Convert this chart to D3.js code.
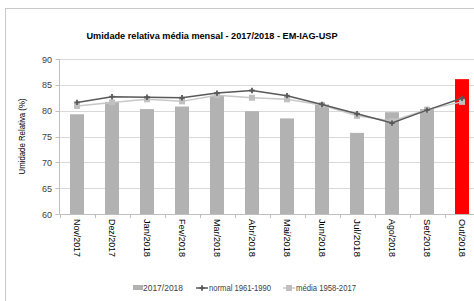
<!DOCTYPE html>
<html><head><meta charset="utf-8">
<script src="https://cdn.jsdelivr.net/npm/d3@7"></script>
<style>body{margin:0;background:#fff;}svg{display:block;font-family:"Liberation Sans",Arial,sans-serif;}</style>
</head><body>
<svg id="c" width="474" height="301"></svg>
<script>
const months = ["Nov/2017","Dez/2017","Jan/2018","Fev/2018","Mar/2018","Abr/2018","Mai/2018","Jun/2018","Jul/2018","Ago/2018","Set/2018","Out/2018"];
const obs = [79.3,81.7,80.3,80.8,82.9,79.9,78.5,81.2,75.7,79.7,80.3,86.1];
const normal = [81.6,82.7,82.6,82.5,83.4,83.9,82.9,81.2,79.4,77.6,80.1,82.4];
const media = [80.9,81.6,82.2,81.8,83.0,82.5,82.2,81.1,79.0,78.0,80.2,81.7];
const yTicks = [60,65,70,75,80,85,90];

const svg = d3.select("#c");
const L = 59.5, R = 479.5, T = 59, B = 214;
const x = d3.scaleBand().domain(months).range([L,R]).paddingInner(0.6).paddingOuter(0.3);
const xc = d => x(d) + x.bandwidth()/2;
const y = d3.scaleLinear().domain([60,90]).range([B,T]);

svg.append("rect").attr("x",5.5).attr("y",8.5).attr("width",520).attr("height",320)
  .attr("fill","none").attr("stroke","#c8c8c8");

svg.append("text").attr("x",212).attr("y",39).attr("text-anchor","middle")
  .attr("font-size",9).attr("font-weight","bold").attr("fill","#000")
  .attr("textLength",251).attr("lengthAdjust","spacingAndGlyphs")
  .text("Umidade relativa  média mensal - 2017/2018 - EM-IAG-USP");

// gridlines
svg.append("g").selectAll("line").data(yTicks.filter(t=>t>60)).join("line")
  .attr("x1",L).attr("x2",R).attr("y1",d=>Math.round(y(d))+0.5).attr("y2",d=>Math.round(y(d))+0.5)
  .attr("stroke","#d9d9d9");

// y tick labels
svg.append("g").selectAll("text").data(yTicks).join("text")
  .attr("x",52).attr("y",d=>y(d)+3.5).attr("text-anchor","end")
  .attr("font-size",9).attr("fill","#404040").text(d=>d);
svg.append("g").selectAll("line").data(yTicks).join("line")
  .attr("x1",L-4).attr("x2",L).attr("y1",d=>Math.round(y(d))+0.5).attr("y2",d=>Math.round(y(d))+0.5)
  .attr("stroke","#bfbfbf");
svg.append("line").attr("x1",L).attr("x2",L).attr("y1",T).attr("y2",B).attr("stroke","#bfbfbf");

// y title
svg.append("text").attr("transform",`translate(25,${(T+B)/2}) rotate(-90)`)
  .attr("text-anchor","middle").attr("font-size",8.5).attr("fill","#000")
  .attr("textLength",76).attr("lengthAdjust","spacingAndGlyphs")
  .text("Umidade Relativa (%)");

// bars
svg.append("g").selectAll("rect").data(months).join("rect")
  .attr("x",d=>x(d)).attr("width",x.bandwidth())
  .attr("y",(d,i)=>y(obs[i])).attr("height",(d,i)=>B-y(obs[i]))
  .attr("fill",(d,i)=>i===months.length-1?"#ff0000":"#b2b2b2");

// x axis
svg.append("line").attr("x1",L).attr("x2",R).attr("y1",B+0.5).attr("y2",B+0.5).attr("stroke","#bfbfbf");
const step = x.step();
svg.append("g").selectAll("line").data(d3.range(months.length+1)).join("line")
  .attr("x1",i=>Math.round(L+i*step)+0.5).attr("x2",i=>Math.round(L+i*step)+0.5)
  .attr("y1",B).attr("y2",B+4).attr("stroke","#bfbfbf");
svg.append("g").selectAll("text").data(months).join("text")
  .attr("transform",d=>`translate(${xc(d)-3},219) rotate(90)`)
  .attr("font-size",8.5).attr("fill","#000")
  .attr("textLength",38).attr("lengthAdjust","spacingAndGlyphs").text(d=>d);

// lines
const line = d3.line().x((d,i)=>xc(months[i])).y(d=>y(d));
svg.append("path").datum(media).attr("d",line).attr("fill","none").attr("stroke","#c8c8c8").attr("stroke-width",1.5);
svg.append("g").selectAll("rect").data(media).join("rect")
  .attr("x",(d,i)=>xc(months[i])-3).attr("y",d=>y(d)-3).attr("width",6).attr("height",6).attr("fill","#c0c0c0");
svg.append("path").datum(normal).attr("d",line).attr("fill","none").attr("stroke","#595959").attr("stroke-width",1.5);
const plus = d3.symbol().type(d3.symbolCross).size(16);
svg.append("g").selectAll("path").data(normal).join("path")
  .attr("transform",(d,i)=>`translate(${xc(months[i])},${y(d)})`).attr("d",plus).attr("fill","#595959");

// legend
const lg = svg.append("g").attr("font-size",8.5).attr("fill","#404040");
lg.append("rect").attr("x",133).attr("y",285).attr("width",10).attr("height",5).attr("fill","#b2b2b2");
lg.append("text").attr("x",143).attr("y",291).attr("textLength",40).attr("lengthAdjust","spacingAndGlyphs").text("2017/2018");
lg.append("line").attr("x1",196).attr("x2",208).attr("y1",288).attr("y2",288).attr("stroke","#595959").attr("stroke-width",1.5);
lg.append("path").attr("transform","translate(202,288)").attr("d",plus).attr("fill","#595959");
lg.append("text").attr("x",209).attr("y",291).attr("textLength",62).attr("lengthAdjust","spacingAndGlyphs").text("normal 1961-1990");
lg.append("line").attr("x1",283).attr("x2",295).attr("y1",288).attr("y2",288).attr("stroke","#c8c8c8").attr("stroke-width",1.5);
lg.append("rect").attr("x",286).attr("y",285).attr("width",6).attr("height",6).attr("fill","#c0c0c0");
lg.append("text").attr("x",296).attr("y",291).attr("textLength",60).attr("lengthAdjust","spacingAndGlyphs").text("média 1958-2017");
</script>
</body></html>
